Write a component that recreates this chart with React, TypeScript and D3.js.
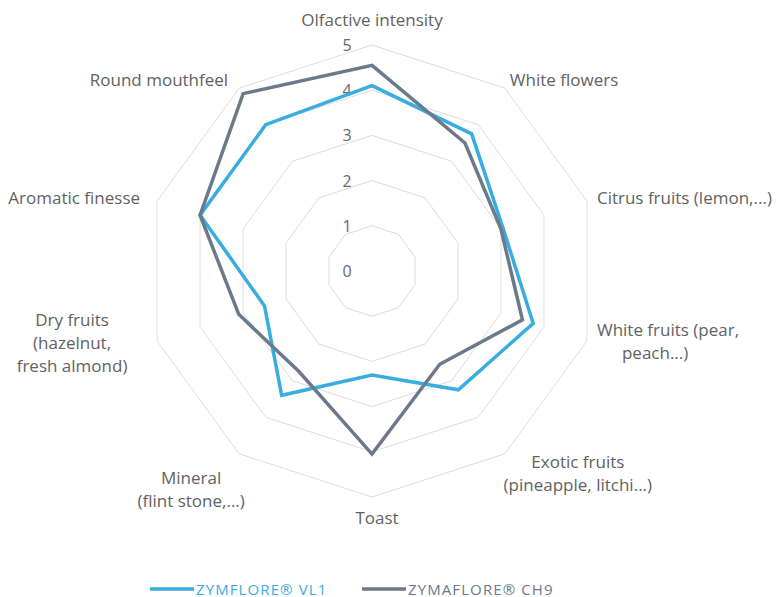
import * as d3 from "d3";

const AXES = [
  ["Olfactive intensity"],
  ["White flowers"],
  ["Citrus fruits (lemon,...)"],
  ["White fruits (pear,", "peach...)"],
  ["Exotic fruits", "(pineapple, litchi...)"],
  ["Toast"],
  ["Mineral", "(flint stone,...)"],
  ["Dry fruits", "(hazelnut,", "fresh almond)"],
  ["Aromatic finesse"],
  ["Round mouthfeel"],
];

const VL1 = [4.1, 3.75, 3.05, 3.75, 3.25, 2.3, 3.4, 2.5, 4.0, 4.0];
const CH9 = [4.55, 3.5, 3.0, 3.5, 2.55, 4.05, 2.75, 3.1, 4.0, 4.85];
const TICKS = [0, 1, 2, 3, 4, 5];

const SERIES = [
  { name: "ZYMFLORE® VL1", values: VL1, colour: "#3aade0" },
  { name: "ZYMAFLORE® CH9", values: CH9, colour: "#6b7a8b" },
];

const W = 777;
const H = 597;
const CX = 372;
const CY = 271;
const R = 226;
const FONT = "'Open Sans', 'Noto Sans', sans-serif";

// label placement per axis: offset from the outer vertex, anchor, indent of later lines
const LABEL_POS: { dx: number; dy: number; anchor: string; indent?: number }[] = [
  { dx: 0, dy: -25, anchor: "middle" },
  { dx: 5, dy: -8, anchor: "start" },
  { dx: 10, dy: -3, anchor: "start" },
  { dx: 10, dy: -11, anchor: "start", indent: 25 },
  { dx: 73, dy: 8, anchor: "middle" },
  { dx: 5, dy: 21, anchor: "middle" },
  { dx: -48, dy: 24, anchor: "middle" },
  { dx: -85, dy: -21, anchor: "middle" },
  { dx: -17, dy: -3, anchor: "end" },
  { dx: -11, dy: -8, anchor: "end" },
];

export default function App() {
  const n = AXES.length;
  const r = d3.scaleLinear().domain([0, 5]).range([0, R]);
  const angle = (i: number) => (i * 2 * Math.PI) / n;
  const pt = (i: number, v: number): [number, number] => [
    CX + r(v) * Math.sin(angle(i)),
    CY - r(v) * Math.cos(angle(i)),
  ];

  const line = d3.line().curve(d3.curveLinearClosed);

  return (
    <svg width={W} height={H} style={{ position: "absolute", left: 0, top: 0, background: "#fff" }}>
      <g>
        {TICKS.filter((t) => t > 0).map((t) => (
          <path
            key={t}
            d={line(d3.range(n).map((i) => pt(i, t))) ?? ""}
            fill="none"
            stroke="#dddddd"
            strokeWidth={1}
          />
        ))}
      </g>
      <g>
        {TICKS.map((t) => (
          <text
            key={t}
            x={CX - 25}
            y={CY - r(t) + 6}
            textAnchor="middle"
            fill="#6a6a6a"
            style={{ font: `16px ${FONT}` }}
          >
            {t}
          </text>
        ))}
      </g>
      <g>
        {SERIES.map((s) => (
          <path
            key={s.name}
            d={line(s.values.map((v, i) => pt(i, v))) ?? ""}
            fill="none"
            stroke={s.colour}
            strokeWidth={3.5}
            strokeLinejoin="miter"
          />
        ))}
      </g>
      <g>
        {AXES.map((lines, i) => {
          const [x, y] = pt(i, 5);
          const p = LABEL_POS[i];
          return (
            <text
              key={i}
              y={y + p.dy + 6}
              textAnchor={p.anchor}
              fill="#626262"
              style={{ font: `17px ${FONT}` }}
            >
              {lines.map((l, j) => (
                <tspan
                  key={j}
                  x={x + p.dx + (j > 0 ? p.indent ?? 0 : 0)}
                  dy={j === 0 ? 0 : 23}
                >
                  {l}
                </tspan>
              ))}
            </text>
          );
        })}
      </g>
      <g transform="translate(150, 589)">
        {SERIES.map((s, i) => (
          <g key={s.name} transform={`translate(${i * 212}, 0)`}>
            <line x1={0} x2={44} y1={0} y2={0} stroke={s.colour} strokeWidth={3.5} />
            <text
              x={46}
              y={5.5}
              fill={s.colour}
              style={{ font: `15px ${FONT}`, letterSpacing: "1.1px" }}
            >
              {s.name}
            </text>
          </g>
        ))}
      </g>
    </svg>
  );
}
